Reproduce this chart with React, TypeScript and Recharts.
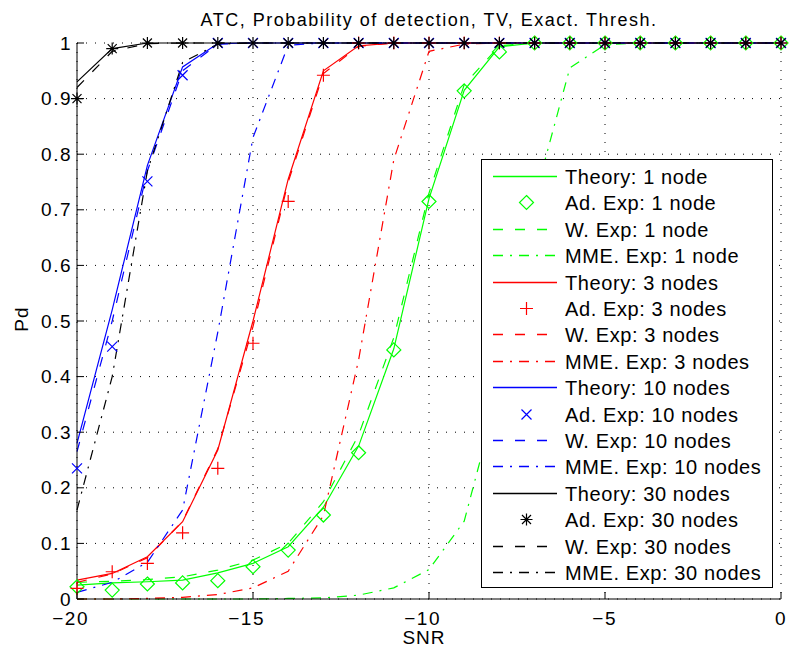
import React from 'react';
import { LineChart, Line, XAxis, YAxis, CartesianGrid } from 'recharts';

// SNR grid (dB) and axis ticks
const SNR = [-20, -19, -18, -17, -16, -15, -14, -13, -12, -11, -10, -9, -8, -7, -6, -5, -4, -3, -2, -1, 0];
const X_TICKS = [-20, -15, -10, -5, 0];
const Y_TICKS = [0, 0.1, 0.2, 0.3, 0.4, 0.5, 0.6, 0.7, 0.8, 0.9, 1];

// 1 node
const THEORY_1 = [0.025, 0.029, 0.031, 0.034, 0.047, 0.064, 0.094, 0.165, 0.275, 0.45, 0.72, 0.915, 0.993, 1, 1, 1, 1, 1, 1, 1, 1];
const AD_1 = [0.022, 0.016, 0.027, 0.029, 0.033, 0.058, 0.088, 0.151, 0.263, 0.448, 0.715, 0.914, 0.984, 1, 1, 1, 1, 1, 1, 1, 1];
const W_1 = [0.03, 0.032, 0.035, 0.04, 0.052, 0.07, 0.1, 0.175, 0.295, 0.47, 0.73, 0.925, 0.995, 1, 1, 1, 1, 1, 1, 1, 1];
const MME_1 = [0, 0, 0, 0, 0, 0, 0.001, 0.002, 0.007, 0.02, 0.053, 0.14, 0.38, 0.72, 0.955, 0.997, 1, 1, 1, 1, 1];

// 3 nodes
const THEORY_3 = [0.034, 0.046, 0.076, 0.139, 0.268, 0.5, 0.755, 0.95, 0.995, 1, 1, 1, 1, 1, 1, 1, 1, 1, 1, 1, 1];
const AD_3 = [0.019, 0.049, 0.064, 0.119, 0.235, 0.46, 0.715, 0.942, 1, 1, 1, 1, 1, 1, 1, 1, 1, 1, 1, 1, 1];
const W_3 = [0.03, 0.045, 0.074, 0.14, 0.27, 0.49, 0.75, 0.945, 0.994, 1, 1, 1, 1, 1, 1, 1, 1, 1, 1, 1, 1];
const MME_3 = [0, 0, 0.001, 0.003, 0.008, 0.02, 0.05, 0.15, 0.43, 0.79, 0.985, 0.998, 1, 1, 1, 1, 1, 1, 1, 1, 1];

// 10 nodes
const THEORY_10 = [0.28, 0.52, 0.78, 0.957, 0.999, 1, 1, 1, 1, 1, 1, 1, 1, 1, 1, 1, 1, 1, 1, 1, 1];
const AD_10 = [0.235, 0.454, 0.751, 0.942, 1, 1, 1, 1, 1, 1, 1, 1, 1, 1, 1, 1, 1, 1, 1, 1, 1];
const W_10 = [0.265, 0.5, 0.77, 0.95, 0.998, 1, 1, 1, 1, 1, 1, 1, 1, 1, 1, 1, 1, 1, 1, 1, 1];
const MME_10 = [0.012, 0.03, 0.066, 0.16, 0.48, 0.83, 0.996, 1, 1, 1, 1, 1, 1, 1, 1, 1, 1, 1, 1, 1, 1];

// 30 nodes
const THEORY_30 = [0.93, 0.99, 1, 1, 1, 1, 1, 1, 1, 1, 1, 1, 1, 1, 1, 1, 1, 1, 1, 1, 1];
const AD_30 = [0.9, 0.99, 1, 1, 1, 1, 1, 1, 1, 1, 1, 1, 1, 1, 1, 1, 1, 1, 1, 1, 1];
const W_30 = [0.92, 0.985, 0.999, 1, 1, 1, 1, 1, 1, 1, 1, 1, 1, 1, 1, 1, 1, 1, 1, 1, 1];
const MME_30 = [0.16, 0.4, 0.77, 0.965, 0.998, 1, 1, 1, 1, 1, 1, 1, 1, 1, 1, 1, 1, 1, 1, 1, 1];

const GREEN = '#00ff00';
const RED = '#ff0000';
const BLUE = '#0000ff';
const BLACK = '#000000';

const DASH = '10 12';
const DASH_DOT = '10 7 2 7';
const FONT = '"Liberation Sans", Arial, Helvetica, sans-serif';
const LINE_W = 1.2;

type Kind = 'theory' | 'ad' | 'w' | 'mme';
type MarkerType = 'diamond' | 'plus' | 'cross' | 'star';

interface Series {
  key: string;
  name: string;
  values: number[];
  color: string;
  kind: Kind;
  marker: MarkerType;
}

const group = (tag: string, label: string, color: string, marker: MarkerType, th: number[], ad: number[], w: number[], mme: number[]): Series[] => [
  { key: `th${tag}`, name: `Theory: ${label}`, values: th, color, kind: 'theory', marker },
  { key: `ad${tag}`, name: `Ad. Exp: ${label}`, values: ad, color, kind: 'ad', marker },
  { key: `w${tag}`, name: `W. Exp: ${label}`, values: w, color, kind: 'w', marker },
  { key: `mme${tag}`, name: `MME. Exp: ${label}`, values: mme, color, kind: 'mme', marker },
];

const SERIES: Series[] = [
  ...group('1', '1 node', GREEN, 'diamond', THEORY_1, AD_1, W_1, MME_1),
  ...group('3', '3 nodes', RED, 'plus', THEORY_3, AD_3, W_3, MME_3),
  ...group('10', '10 nodes', BLUE, 'cross', THEORY_10, AD_10, W_10, MME_10),
  ...group('30', '30 nodes', BLACK, 'star', THEORY_30, AD_30, W_30, MME_30),
];

const chartData = SNR.map((snr, i) => {
  const row: Record<string, number> = { snr };
  SERIES.forEach((s) => {
    row[s.key] = s.values[i];
  });
  return row;
});

const dashFor = (kind: Kind) => (kind === 'w' ? DASH : kind === 'mme' ? DASH_DOT : undefined);

const markerPath = (type: MarkerType, cx: number, cy: number): string => {
  switch (type) {
    case 'diamond':
      return `M${cx},${cy - 7}L${cx + 7},${cy}L${cx},${cy + 7}L${cx - 7},${cy}Z`;
    case 'plus':
      return `M${cx - 6.5},${cy}H${cx + 6.5}M${cx},${cy - 6.5}V${cy + 6.5}`;
    case 'cross':
      return `M${cx - 5},${cy - 5}L${cx + 5},${cy + 5}M${cx - 5},${cy + 5}L${cx + 5},${cy - 5}`;
    case 'star':
    default:
      return `M${cx - 6},${cy}H${cx + 6}M${cx},${cy - 6}V${cy + 6}M${cx - 4.5},${cy - 4.5}L${cx + 4.5},${cy + 4.5}M${cx - 4.5},${cy + 4.5}L${cx + 4.5},${cy - 4.5}`;
  }
};

const fmtX = (v: number) => (v < 0 ? `\u2212${Math.abs(v)}` : `${v}`);
const fmtY = (v: number) => (v === 0 || v === 1 ? `${v}` : v.toFixed(1));

const tickText = { fontFamily: FONT, fontSize: 19, fill: '#000', letterSpacing: 1.5 };

const BottomTick = (props: any) => {
  const { x, y, payload } = props;
  const v = payload.value as number;
  return (
    <g>
      <line x1={x} y1={y} x2={x} y2={y - 7} stroke="#000" />
      <text x={v < 0 ? x + 12 : x} y={y + 26} textAnchor={v < 0 ? 'end' : 'middle'} {...tickText}>
        {fmtX(v)}
      </text>
    </g>
  );
};

const TopTick = (props: any) => {
  const { x, y } = props;
  return <line x1={x} y1={y} x2={x} y2={y + 7} stroke="#000" />;
};

const LeftTick = (props: any) => {
  const { x, y, payload } = props;
  return (
    <g>
      <line x1={x} y1={y} x2={x + 7} y2={y} stroke="#000" />
      <text x={x - 5} y={y + 6.5} textAnchor="end" {...tickText}>
        {fmtY(payload.value)}
      </text>
    </g>
  );
};

const RightTick = (props: any) => {
  const { x, y } = props;
  return <line x1={x} y1={y} x2={x - 7} y2={y} stroke="#000" />;
};

const ROW_H = 26.4;

const LegendBox = () => (
  <div
    style={{
      position: 'absolute',
      left: 481,
      top: 159,
      width: 292,
      height: 429,
      boxSizing: 'border-box',
      border: '1px solid #000',
      background: '#fff',
    }}
  >
    <svg width={290} height={427} style={{ display: 'block', overflow: 'visible' }}>
      {SERIES.map((s, i) => {
        const cy = Math.round(16 + i * ROW_H) + 0.5;
        return (
          <g key={s.key}>
            {s.kind === 'ad' ? (
              <path d={markerPath(s.marker, 44.5, cy)} fill="none" stroke={s.color} strokeWidth={LINE_W} />
            ) : (
              <line x1={11} y1={cy} x2={75} y2={cy} stroke={s.color} strokeWidth={1.4} strokeDasharray={dashFor(s.kind)} />
            )}
            <text x={83} y={cy + 7.5} fontFamily={FONT} fontSize={20} letterSpacing={0.6} fill="#000">
              {s.name}
            </text>
          </g>
        );
      })}
    </svg>
  </div>
);

export default function App() {
  return (
    <div style={{ position: 'absolute', left: 0, top: 0, width: 789, height: 657, background: '#fff' }}>
      <LineChart width={789} height={657} data={chartData} margin={{ top: 43, right: 8, bottom: 0, left: 0 }}>
        <CartesianGrid stroke="#000" strokeDasharray="1 8" />
        <XAxis
          dataKey="snr"
          type="number"
          domain={[-20, 0]}
          ticks={X_TICKS}
          interval={0}
          height={58}
          tickSize={0}
          tickMargin={0}
          tickLine={false}
          axisLine={{ stroke: '#000' }}
          tick={<BottomTick />}
        />
        <XAxis
          xAxisId="top"
          orientation="top"
          type="number"
          domain={[-20, 0]}
          ticks={X_TICKS}
          interval={0}
          height={0}
          tickSize={0}
          tickMargin={0}
          tickLine={false}
          axisLine={{ stroke: '#000' }}
          tick={<TopTick />}
        />
        <YAxis
          type="number"
          domain={[0, 1]}
          ticks={Y_TICKS}
          interval={0}
          width={77}
          tickSize={0}
          tickMargin={0}
          tickLine={false}
          axisLine={{ stroke: '#000' }}
          tick={<LeftTick />}
        />
        <YAxis
          yAxisId="right"
          orientation="right"
          type="number"
          domain={[0, 1]}
          ticks={Y_TICKS}
          interval={0}
          width={0}
          tickSize={0}
          tickMargin={0}
          tickLine={false}
          axisLine={{ stroke: '#000' }}
          tick={<RightTick />}
        />
        {SERIES.map((s) =>
          s.kind === 'ad' ? (
            <Line
              key={s.key}
              type="linear"
              dataKey={s.key}
              stroke="none"
              isAnimationActive={false}
              activeDot={false}
              dot={(p: any) => (
                <path key={`${s.key}-${p.index}`} d={markerPath(s.marker, p.cx, p.cy)} fill="none" stroke={s.color} strokeWidth={LINE_W} />
              )}
            />
          ) : (
            <Line
              key={s.key}
              type="linear"
              dataKey={s.key}
              stroke={s.color}
              strokeWidth={LINE_W}
              strokeDasharray={dashFor(s.kind)}
              dot={false}
              activeDot={false}
              isAnimationActive={false}
            />
          )
        )}
      </LineChart>
      <svg width={789} height={657} style={{ position: 'absolute', left: 0, top: 0, pointerEvents: 'none' }}>
        <text x={429} y={26} textAnchor="middle" fontFamily={FONT} fontSize={18} letterSpacing={1.5} fill="#000">
          ATC, Probability of detection, TV, Exact. Thresh.
        </text>
        <text x={424} y={644} textAnchor="middle" fontFamily={FONT} fontSize={19} letterSpacing={1} fill="#000">
          SNR
        </text>
        <text x={28} y={319} textAnchor="middle" fontFamily={FONT} fontSize={19} letterSpacing={1} fill="#000" transform="rotate(-90 28 319)">
          Pd
        </text>
      </svg>
      <LegendBox />
    </div>
  );
}
